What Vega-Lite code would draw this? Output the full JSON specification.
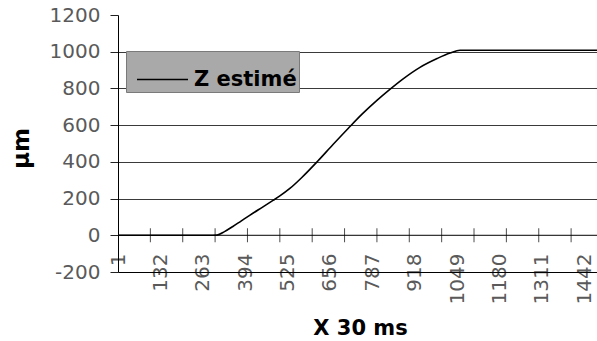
{
  "$schema": "https://vega.github.io/schema/vega-lite/v6.json",
  "width": 479,
  "height": 257,
  "autosize": "none",
  "padding": {"left": 118, "top": 15, "right": 0, "bottom": 69},
  "background": "white",
  "config": {"view": {"stroke": null}},
  "datasets": {
    "curve": [
      {"t": 1, "z": 0, "s": "Z estimé"},
      {"t": 100, "z": 0, "s": "Z estimé"},
      {"t": 200, "z": 0, "s": "Z estimé"},
      {"t": 280, "z": 0, "s": "Z estimé"},
      {"t": 307, "z": 1, "s": "Z estimé"},
      {"t": 330, "z": 20, "s": "Z estimé"},
      {"t": 356, "z": 48, "s": "Z estimé"},
      {"t": 380, "z": 76, "s": "Z estimé"},
      {"t": 409, "z": 110, "s": "Z estimé"},
      {"t": 449, "z": 155, "s": "Z estimé"},
      {"t": 480, "z": 190, "s": "Z estimé"},
      {"t": 500, "z": 213, "s": "Z estimé"},
      {"t": 532, "z": 255, "s": "Z estimé"},
      {"t": 569, "z": 315, "s": "Z estimé"},
      {"t": 617, "z": 402, "s": "Z estimé"},
      {"t": 666, "z": 496, "s": "Z estimé"},
      {"t": 712, "z": 582, "s": "Z estimé"},
      {"t": 755, "z": 660, "s": "Z estimé"},
      {"t": 801, "z": 735, "s": "Z estimé"},
      {"t": 841, "z": 795, "s": "Z estimé"},
      {"t": 881, "z": 851, "s": "Z estimé"},
      {"t": 934, "z": 915, "s": "Z estimé"},
      {"t": 987, "z": 963, "s": "Z estimé"},
      {"t": 1027, "z": 993, "s": "Z estimé"},
      {"t": 1058, "z": 1008, "s": "Z estimé"},
      {"t": 1200, "z": 1008, "s": "Z estimé"},
      {"t": 1481, "z": 1008, "s": "Z estimé"}
    ],
    "ticks": [
      {"t": 101, "y": 0}, {"t": 201, "y": 0}, {"t": 301, "y": 0}, {"t": 401, "y": 0},
      {"t": 501, "y": 0}, {"t": 601, "y": 0}, {"t": 701, "y": 0}, {"t": 801, "y": 0},
      {"t": 901, "y": 0}, {"t": 1001, "y": 0}, {"t": 1101, "y": 0}, {"t": 1201, "y": 0},
      {"t": 1301, "y": 0}, {"t": 1401, "y": 0}
    ],
    "zero": [{"y": 0}]
  },
  "layer": [
    {
      "data": {"name": "curve"},
      "mark": {"type": "line", "strokeWidth": 1.6, "interpolate": "monotone"},
      "encoding": {
        "x": {
          "field": "t", "type": "quantitative",
          "scale": {"domain": [1, 1481], "nice": false, "zero": false},
          "axis": {
            "values": [1, 132, 263, 394, 525, 656, 787, 918, 1049, 1180, 1311, 1442],
            "tickCount": 30,
            "labelExpr": "datum.value + ''",
            "labelAngle": 270,
            "labelFont": "DejaVu Sans", "labelFontSize": 20, "labelColor": "#5a5a5a",
            "labelPadding": -19, "ticks": false, "grid": false,
            "domainColor": "black", "domainWidth": 1,
            "labelOverlap": false, "labelFlush": false, "labelBound": false,
            "title": "X 30 ms", "titleFont": "DejaVu Sans", "titleFontWeight": "bold", "titleFontSize": 21,
            "titleColor": "black", "titleX": 242, "titleY": 62, "titleBaseline": "alphabetic", "titleAlign": "center"
          }
        },
        "y": {
          "field": "z", "type": "quantitative",
          "scale": {"domain": [-200, 1200], "nice": false, "zero": false},
          "axis": {
            "values": [-200, 0, 200, 400, 600, 800, 1000, 1200],
            "tickCount": 30,
            "labelExpr": "datum.value + ''",
            "labelOverlap": false, "labelFlush": false, "labelBound": false,
            "labelFont": "DejaVu Sans", "labelFontSize": 20, "labelColor": "#5a5a5a",
            "labelPadding": 10, "tickSize": 8, "tickColor": "#222",
            "domainColor": "black", "domainWidth": 1,
            "grid": true,
            "gridColor": {"condition": {"test": "datum.value == 1200 || datum.value == -200 || datum.value == 0", "value": "transparent"}, "value": "#3a3a3a"},
            "gridWidth": 1,
            "title": "µm", "titleFont": "DejaVu Sans", "titleFontWeight": "bold", "titleFontSize": 23,
            "titleColor": "black", "titleX": -97, "titleY": 133, "titleAngle": 270, "titleAlign": "center", "titleBaseline": "middle"
          }
        },
        "color": {
          "field": "s", "type": "nominal",
          "scale": {"range": ["black"]},
          "legend": {
            "orient": "none", "legendX": 8, "legendY": 36, "title": null,
            "fillColor": "#a9a9a9", "strokeColor": "#7a7a7a", "padding": 2, "cornerRadius": 0,
            "symbolType": "stroke", "symbolSize": 2601, "symbolStrokeWidth": 1.5, "symbolStrokeColor": "#333",
            "symbolOffset": 8,
            "labelFont": "DejaVu Sans", "labelFontWeight": "bold", "labelFontSize": 21, "labelColor": "black",
            "labelOffset": 5
          }
        }
      }
    },
    {
      "data": {"name": "zero"},
      "mark": {"type": "rule", "color": "black", "strokeWidth": 1},
      "encoding": {
        "y": {"field": "y", "type": "quantitative"}
      }
    },
    {
      "data": {"name": "ticks"},
      "mark": {"type": "tick", "orient": "vertical", "size": 14, "thickness": 1, "color": "black"},
      "encoding": {
        "x": {"field": "t", "type": "quantitative"},
        "y": {"field": "y", "type": "quantitative"}
      }
    }
  ]
}
